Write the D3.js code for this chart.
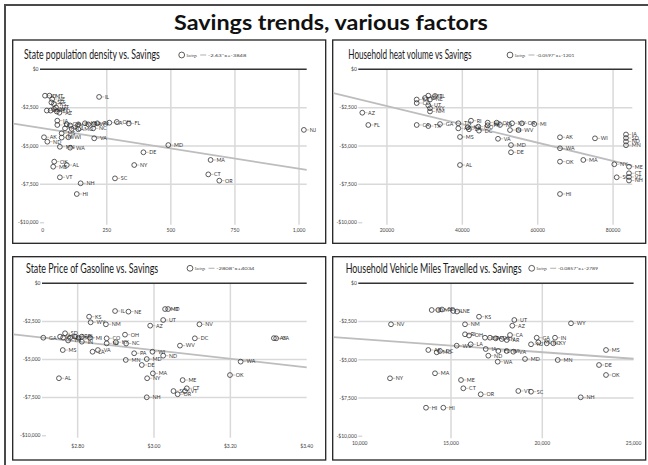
<!DOCTYPE html>
<html>
<head>
<meta charset="utf-8">
<script src="https://cdn.jsdelivr.net/npm/d3@7"></script>
<style>
  html, body { margin: 0; padding: 0; background: #fff; }
  svg { display: block; font-family: Lato, "Open Sans", sans-serif; }
</style>
</head>
<body>
<svg id="chart" width="648" height="465"></svg>
<script>
// ---- Shared savings axis ----
const savingsTicks = [0, -2500, -5000, -7500, -10000];

// ---- State population density vs. savings ----
const densityTicks = [0, 250, 500, 750, 1000];
const densityTrend = [-2.63, -3848];
const densityStates = ["ID","MT","NE","SD","KS","UT","WY","NM","NV","CO","AZ","IL","IA","TX","GA","TN","IN","KY","PA","WV","RI","CA","OH","FL","AR","LA","MO","NC","MS","AK","MI","WI","ND","VA","MN","WA","MD","DE","OK","ME","AL","NY","MA","VT","SC","CT","OR","NH","HI","NJ"];
const densityValues = [9,26,37,34,44,52,44,31,16,55,65,220,57,57,94,107,139,165,178,200,213,260,289,336,87,113,139,197,74,5,74,100,18,201,67,107,490,393,45,41,94,357,655,67,282,646,689,148,133,1019];
const densitySavings = [-1720,-1720,-1940,-2160,-2260,-2490,-2590,-2690,-2690,-2750,-2830,-1800,-3350,-3630,-3590,-3660,-3590,-3520,-3590,-3590,-3520,-3480,-3430,-3530,-3850,-3880,-3910,-3850,-4170,-4430,-4450,-4430,-4720,-4500,-5050,-5110,-4940,-5410,-6020,-6350,-6240,-6240,-5910,-7040,-7110,-6850,-7260,-7430,-8130,-3950];

// ---- Household heat volume vs. savings ----
const heatTicks = [20000, 40000, 60000, 80000];
const heatTrend = [-0.0597, -1201];
const heatStates = ["AZ","FL","KS","CO","MT","ID","IL","NE","UT","WY","NM","CA","TX","GA","TN","AR","KY","LA","RI","MO","DC","NC","PA","OH","NJ","NV","OR","IN","WV","MI","MS","VA","MD","DE","AL","AK","WI","WA","OK","MA","NY","ME","SC","HI","IA","SD","ND","MN","CT","VT","NH"];
const heatValues = [13461,15053,27895,27895,30973,30097,32750,31424,30973,31424,31424,27895,30973,34077,38932,38932,41426,41771,42302,44238,44424,46732,46732,49120,49996,53200,55800,52650,54900,59096,39383,49466,52914,52914,39383,65914,75200,65914,65914,72097,80324,84222,80960,65914,83426,83426,83426,83426,84222,84222,84222];
const heatSavings = [-2830,-3630,-1970,-2200,-1720,-1870,-1740,-1970,-2350,-2540,-2750,-3630,-3700,-3570,-3520,-3850,-3780,-3910,-3350,-3740,-4000,-3480,-3650,-3480,-3630,-3520,-3520,-3960,-3960,-3570,-4410,-4530,-4940,-5410,-6240,-4430,-4500,-5150,-6020,-5910,-6190,-6350,-7040,-8130,-4250,-4480,-4710,-4950,-6780,-7020,-7250];

// ---- State price of gasoline vs. savings ----
const gasTicks = [2.8, 3.0, 3.2, 3.4];
const gasTrend = [-2808, 4034];
const gasStates = ["IL","NE","MT","ID","KS","WY","NM","UT","AZ","NV","GA","MI","CO","OH","DC","CA","AK","NJ","KY","NC","WV","MS","LA","VA","PA","WI","ND","MN","MD","DE","WA","AL","MA","NY","OK","ME","SC","OR","VT","CT","NH","SD","IA","TX","FL","AR","MO","RI","TN","IN"];
const gasValues = [2.898,2.933,3.029,3.037,2.830,2.834,2.874,3.024,2.990,3.119,2.710,2.832,2.876,2.924,3.107,3.320,3.314,2.876,2.900,2.927,3.068,2.761,2.839,2.853,2.948,2.996,3.024,2.926,2.981,2.968,3.227,2.751,2.997,2.982,3.199,3.075,3.051,3.062,3.081,3.086,2.981,2.767,2.754,2.762,2.780,2.793,2.802,2.811,2.775,2.811];
const gasSavings = [-1820,-1860,-1690,-1690,-2190,-2560,-2690,-2410,-2780,-2690,-3570,-3570,-3610,-3370,-3610,-3610,-3600,-3940,-3870,-3950,-4090,-4380,-4490,-4380,-4590,-4490,-4750,-5030,-4970,-5360,-5140,-6230,-5910,-6230,-6020,-6350,-7070,-7280,-7070,-6890,-7480,-3280,-3500,-3560,-3570,-3500,-3570,-3500,-3750,-3830];

// ---- Household vehicle miles travelled vs. savings ----
const milesTicks = [10000, 15000, 20000, 25000];
const milesTrend = [-0.0857, -2789];
const milesStates = ["ID","MT","SD","IL","NE","KS","NV","NM","UT","AZ","WY","RI","OH","CO","PA","TX","TN","AR","CA","GA","IN","MI","NC","KY","NJ","WV","LA","AK","MO","DC","IA","FL","WI","VA","ND","MS","WA","MD","MN","DE","OK","NY","MA","ME","CT","OR","VT","SC","NH","HI","HI"];
const milesValues = [13943,14305,14507,15126,15329,16534,11714,15767,18467,18357,21572,15767,15986,16862,17136,17448,17777,18051,18232,19694,20696,19782,20242,20603,19382,15312,16079,13757,14217,14398,16901,17591,18051,18412,17043,23489,17558,19053,20844,23106,23489,11659,14124,15548,15674,16627,18686,19382,22103,13631,14579];
const milesSavings = [-1745,-1745,-1712,-1810,-1843,-2183,-2680,-2680,-2399,-2771,-2614,-3333,-3412,-3556,-3556,-3595,-3641,-3706,-3379,-3556,-3556,-3856,-3922,-3922,-3987,-4078,-3987,-4359,-4510,-4425,-4294,-4425,-4425,-4471,-4732,-4359,-5124,-4948,-5013,-5340,-5993,-6209,-5882,-6320,-6863,-7255,-7039,-7085,-7451,-8131,-8131];

// ---- Formatters ----
const fmtComma = d3.format(",");
const fmtSavings = d => d === 0 ? "$0" : "-$" + fmtComma(-d);

// ---- Panel layout ----
const panels = [
  {
    title: "State population density vs. Savings", titleX: 24, titleW: 136, titleY: 59,
    states: densityStates, xs: densityValues, ys: densitySavings, trend: densityTrend,
    xTicks: densityTicks, xFormat: fmtComma, xDomain: [0, 1030],
    box: [12.7, 40, 313, 203.3], xRange: [42.7, 306.7], yRange: [69.3, 222.7],
    gridStart: 40, xLabelY: 230, legendX: 181.7, legendY: 55, formulaW: 38.4
  },
  {
    title: "Household heat volume vs Savings", titleX: 348.3, titleW: 123.4, titleY: 59,
    states: heatStates, xs: heatValues, ys: heatSavings, trend: heatTrend,
    xTicks: heatTicks, xFormat: d3.format("d"), xDomain: [12400, 85100],
    box: [332.7, 40, 313, 203.3], xRange: [358.3, 632.3], yRange: [69.3, 222.7],
    gridStart: 358.3, xLabelY: 230, legendX: 510, legendY: 55, formulaW: 38
  },
  {
    title: "State Price of Gasoline vs. Savings", titleX: 26, titleW: 132.3, titleY: 272.5,
    states: gasStates, xs: gasValues, ys: gasSavings, trend: gasTrend,
    xTicks: gasTicks, xFormat: d => "$" + d.toFixed(2), xDomain: [2.71, 3.40],
    box: [12.7, 256.7, 313, 203.3], xRange: [43.3, 306.7], yRange: [283.3, 435.7],
    gridStart: 42, xLabelY: 446.5, legendX: 190, legendY: 268.3, formulaW: 38.3
  },
  {
    title: "Household Vehicle Miles Travelled vs. Savings", titleX: 345.7, titleW: 176, titleY: 272.5,
    states: milesStates, xs: milesValues, ys: milesSavings, trend: milesTrend,
    xTicks: milesTicks, xFormat: fmtComma, xDomain: [10000, 25000],
    box: [332.7, 256.7, 313, 203.3], xRange: [359.7, 633.6], yRange: [283.3, 436.3],
    gridStart: 358.3, xLabelY: 443.5, legendX: 531.7, legendY: 268.3, formulaW: 40
  }
];

const svg = d3.select("#chart");

// Text squeezed horizontally to a given width (the face is drawn narrow)
function fittedText(parent, str, x, y, width, opts) {
  const t = parent.append("text")
    .attr("x", 0).attr("y", 0)
    .attr("font-size", opts.size)
    .attr("font-weight", opts.weight || 400)
    .attr("fill", opts.fill || "#222")
    .attr("dy", opts.dy || null)
    .text(str);
  const natural = t.node().getComputedTextLength();
  const sx = natural > 0 ? width / natural : 1;
  const left = opts.anchor === "middle" ? x - width / 2 : x;
  t.attr("transform", `translate(${left},${y}) scale(${sx},1)`);
  return t;
}

// Outer frame and headline
svg.append("rect")
  .attr("x", 5).attr("y", 5).attr("width", 660).attr("height", 470)
  .attr("fill", "none").attr("stroke", "#4a4a4a").attr("stroke-width", 2);

fittedText(svg, "Savings trends, various factors", 331, 29.5, 314,
  { size: 21, weight: 700, fill: "#111", anchor: "middle" });

function formulaText(t) {
  const fmt = v => String(+v.toPrecision(4));
  return fmt(t[0]) + "*x+" + fmt(t[1]);
}

panels.forEach(p => {
  const g = svg.append("g");
  const [bx, by, bw, bh] = p.box;

  g.append("rect")
    .attr("x", bx).attr("y", by).attr("width", bw).attr("height", bh)
    .attr("fill", "#fff").attr("stroke", "#222").attr("stroke-width", 1.3);

  const x = d3.scaleLinear().domain(p.xDomain).range(p.xRange);
  const y = d3.scaleLinear().domain([0, -10000]).range(p.yRange);
  const yBottom = y(-10000);

  // Vertical grid lines at inner x ticks
  g.append("g").selectAll("line")
    .data(p.xTicks.filter(t => x(t) > p.xRange[0] + 3 && x(t) < p.xRange[1] - 3))
    .join("line")
    .attr("x1", d => x(d)).attr("x2", d => x(d))
    .attr("y1", y(0)).attr("y2", yBottom + 2)
    .attr("stroke", "#d9d9d9").attr("stroke-width", 1.5);

  // Horizontal grid lines (the bottom tick stays a short dash)
  g.append("g").selectAll("line")
    .data(savingsTicks)
    .join("line")
    .attr("x1", p.gridStart)
    .attr("x2", d => d === -10000 ? p.gridStart + 4 : p.xRange[1])
    .attr("y1", d => y(d)).attr("y2", d => y(d))
    .attr("stroke", d => d === 0 ? "#333" : "#d9d9d9")
    .attr("stroke-width", d => d === 0 ? 1.6 : 1.5);

  // Y tick labels
  g.append("g").selectAll("text")
    .data(savingsTicks)
    .join("text")
    .attr("x", p.gridStart - 1.5).attr("y", d => y(d))
    .attr("dy", "0.35em").attr("text-anchor", "end")
    .attr("font-size", 5).attr("fill", "#444")
    .text(fmtSavings);

  // X tick labels
  g.append("g").selectAll("text")
    .data(p.xTicks)
    .join("text")
    .attr("x", d => x(d)).attr("y", p.xLabelY)
    .attr("dy", "0.35em").attr("text-anchor", "middle")
    .attr("font-size", 5).attr("fill", "#444")
    .text(p.xFormat);

  // Linear trend, drawn from the panel edge to the right end of the plot
  const xStart = x.invert(bx + 0.8);
  const xEnd = p.xDomain[1];
  const f = v => p.trend[0] * v + p.trend[1];
  g.append("line")
    .attr("x1", x(xStart)).attr("y1", y(f(xStart)))
    .attr("x2", x(xEnd)).attr("y2", y(f(xEnd)))
    .attr("stroke", "#bdbdbd").attr("stroke-width", 1.8);

  // State points with labels
  const pts = p.states.map((s, i) => ({ s, vx: p.xs[i], vy: p.ys[i] }));
  const r = 2.4;
  const pg = g.append("g");
  pg.selectAll("line")
    .data(pts)
    .join("line")
    .attr("x1", d => x(d.vx) + r + 0.4).attr("x2", d => x(d.vx) + 5.2)
    .attr("y1", d => y(d.vy)).attr("y2", d => y(d.vy))
    .attr("stroke", "#999").attr("stroke-width", 0.6);
  pg.selectAll("circle")
    .data(pts)
    .join("circle")
    .attr("cx", d => x(d.vx)).attr("cy", d => y(d.vy)).attr("r", r)
    .attr("fill", "none").attr("stroke", "#333").attr("stroke-width", 0.8);
  pg.selectAll("text")
    .data(pts)
    .join("text")
    .attr("x", d => x(d.vx) + 5.8).attr("y", d => y(d.vy))
    .attr("dy", "0.35em")
    .attr("font-size", 5.3).attr("fill", "#333")
    .text(d => d.s);

  // Panel title
  fittedText(g, p.title, p.titleX, p.titleY, p.titleW, { size: 12.5, fill: "#1a1a1a" });

  // Legend
  const lx = p.legendX, ly = p.legendY;
  g.append("circle")
    .attr("cx", lx).attr("cy", ly).attr("r", 2.9)
    .attr("fill", "none").attr("stroke", "#333").attr("stroke-width", 0.8);
  fittedText(g, "Savings", lx + 4.8, ly, 10.5, { size: 4.3, fill: "#444", dy: "0.35em" });
  g.append("line")
    .attr("x1", lx + 18.5).attr("x2", lx + 24.5)
    .attr("y1", ly).attr("y2", ly)
    .attr("stroke", "#bdbdbd").attr("stroke-width", 1.2);
  fittedText(g, formulaText(p.trend), lx + 26.3, ly, p.formulaW, { size: 4.6, fill: "#444", dy: "0.35em" });
});
</script>
</body>
</html>
